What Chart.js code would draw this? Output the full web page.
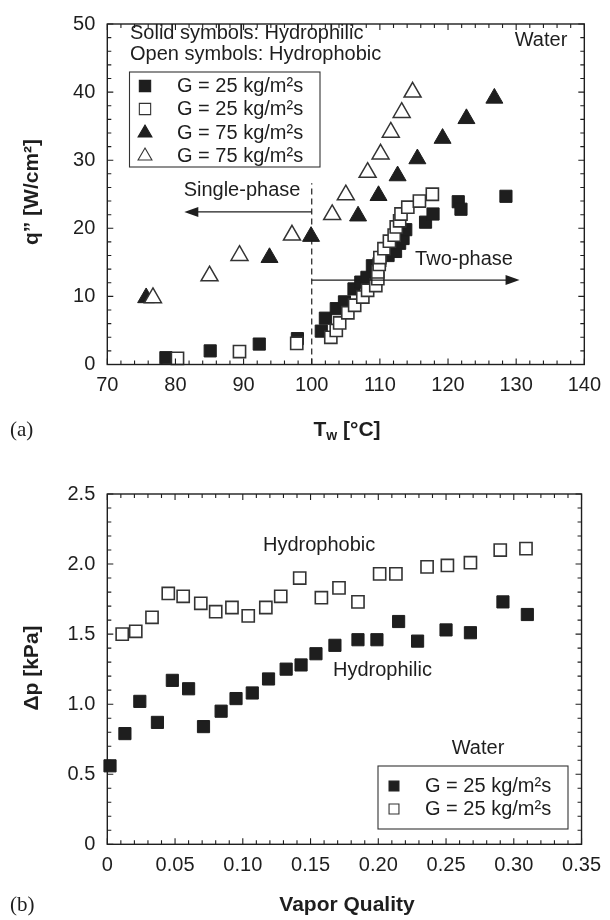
<!DOCTYPE html>
<html>
<head>
<meta charset="utf-8">
<script src="https://cdn.jsdelivr.net/npm/chart.js@4.4.0/dist/chart.umd.min.js"></script>
<style>
  html, body { margin: 0; padding: 0; background: #fff; }
  #wrap { position: relative; width: 610px; height: 920px; }
  canvas { position: absolute; left: 0; }
  #topChart { top: 0; }
  #bottomChart { top: 460px; }
</style>
</head>
<body>
<div id="wrap">
  <canvas id="topChart" width="610" height="460"></canvas>
  <canvas id="bottomChart" width="610" height="460"></canvas>
</div>
<script>
// (a) heat flux vs wall temperature
const twPhilic25 = [78.6, 85.1, 92.3, 97.9, 101.4, 102.0, 103.6, 104.8, 106.2, 107.2, 108.1, 108.9, 110.0, 111.2, 112.3, 112.9, 113.4, 113.8, 116.7, 117.8, 121.5, 121.9, 128.5];
const qPhilic25 = [1.0, 2.0, 3.0, 3.8, 4.9, 6.8, 8.2, 9.2, 11.1, 12.1, 12.8, 14.5, 15.2, 16.0, 16.6, 17.8, 18.5, 19.8, 20.9, 22.1, 23.9, 22.8, 24.7];
const twPhobic25 = [80.3, 89.4, 97.8, 102.8, 103.6, 104.1, 105.3, 106.3, 107.5, 108.2, 109.4, 109.7, 109.7, 109.9, 110.0, 110.6, 111.4, 112.1, 112.4, 112.9, 113.1, 114.1, 115.8, 117.7];
const qPhobic25 = [0.9, 1.9, 3.1, 4.0, 5.0, 6.1, 7.6, 8.7, 9.9, 10.9, 11.6, 12.6, 13.6, 14.7, 15.7, 17.0, 18.1, 19.0, 20.2, 21.1, 22.1, 23.1, 24.0, 25.0];
const twPhilic75 = [75.7, 93.8, 99.9, 106.8, 109.8, 112.6, 115.5, 119.2, 122.7, 126.8];
const qPhilic75 = [9.8, 15.7, 18.8, 21.8, 24.8, 27.7, 30.2, 33.2, 36.1, 39.1];
const twPhobic75 = [76.7, 85.0, 89.4, 97.1, 103.0, 105.0, 108.2, 110.1, 111.6, 113.2, 114.8];
const qPhobic75 = [9.8, 13.0, 16.0, 19.0, 22.0, 24.9, 28.2, 30.9, 34.1, 37.0, 40.0];
const tempTicks = ['70', '80', '90', '100', '110', '120', '130', '140'];
const fluxTicks = ['0', '10', '20', '30', '40', '50'];

// (b) pressure drop vs vapor quality
const xPhilic = [0.002, 0.013, 0.024, 0.037, 0.048, 0.060, 0.071, 0.084, 0.095, 0.107, 0.119, 0.132, 0.143, 0.154, 0.168, 0.185, 0.199, 0.215, 0.229, 0.250, 0.268, 0.292, 0.310];
const dpPhilic = [0.56, 0.79, 1.02, 0.87, 1.17, 1.11, 0.84, 0.95, 1.04, 1.08, 1.18, 1.25, 1.28, 1.36, 1.42, 1.46, 1.46, 1.59, 1.45, 1.53, 1.51, 1.73, 1.64];
const xPhobic = [0.011, 0.021, 0.033, 0.045, 0.056, 0.069, 0.080, 0.092, 0.104, 0.117, 0.128, 0.142, 0.158, 0.171, 0.185, 0.201, 0.213, 0.236, 0.251, 0.268, 0.290, 0.309];
const dpPhobic = [1.50, 1.52, 1.62, 1.79, 1.77, 1.72, 1.66, 1.69, 1.63, 1.69, 1.77, 1.90, 1.76, 1.83, 1.73, 1.93, 1.93, 1.98, 1.99, 2.01, 2.10, 2.11];
const qualityTicks = ['0', '0.05', '0.10', '0.15', '0.20', '0.25', '0.30', '0.35'];
const dpTicks = ['0', '0.5', '1.0', '1.5', '2.0', '2.5'];

const INK = '#1e1e1e';
const FONT = "'Liberation Sans', Arial, sans-serif";
Chart.defaults.font.family = FONT;
Chart.defaults.font.size = 20;
Chart.defaults.color = INK;

const pts = (xs, ys) => xs.map((v, i) => ({ x: v, y: ys[i] }));

const filledSq = { pointStyle: 'rect', pointRadius: 8.6, backgroundColor: INK, borderColor: INK, borderWidth: 1, clip: false };
const openSq = { pointStyle: 'rect', pointRadius: 8.6, backgroundColor: '#fff', borderColor: '#333', borderWidth: 1.6, clip: false };
const filledTri = { pointStyle: 'triangle', pointRadius: 9.8, backgroundColor: INK, borderColor: INK, borderWidth: 1, clip: false };
const openTri = { pointStyle: 'triangle', pointRadius: 9.8, backgroundColor: '#fff', borderColor: '#333', borderWidth: 1.5, clip: false };

function axes(xMin, xMax, xStep, xLabels, yMin, yMax, yStep, yLabels, xHeight) {
    return {
        x: {
            type: 'linear', min: xMin, max: xMax,
            grid: { display: false, drawTicks: false }, border: { display: false },
            ticks: { stepSize: xStep, padding: 9, maxRotation: 0, callback: (v, i) => xLabels[i] },
            afterFit: s => { s.height = xHeight; }
        },
        y: {
            type: 'linear', min: yMin, max: yMax,
            grid: { display: false, drawTicks: false }, border: { display: false },
            ticks: { stepSize: yStep, padding: 12, callback: (v, i) => yLabels[i] },
            afterFit: s => { s.width = 107.3; }
        }
    };
}

// frame on four sides with inward ticks
function frameTicks(chart, xMinor, yMinor) {
    const { ctx, chartArea: a, scales: { x, y } } = chart;
    ctx.save();
    ctx.strokeStyle = INK;
    ctx.lineWidth = 1.4;
    ctx.strokeRect(a.left, a.top, a.right - a.left, a.bottom - a.top);
    ctx.lineWidth = 1.1;
    ctx.beginPath();
    const nx = Math.round((x.max - x.min) / xMinor);
    for (let i = 0; i <= nx; i++) {
        const px = x.getPixelForValue(x.min + i * xMinor);
        const len = i % 5 === 0 ? 6 : 4;
        ctx.moveTo(px, a.bottom); ctx.lineTo(px, a.bottom - len);
        ctx.moveTo(px, a.top); ctx.lineTo(px, a.top + len);
    }
    const ny = Math.round((y.max - y.min) / yMinor);
    for (let i = 0; i <= ny; i++) {
        const py = y.getPixelForValue(y.min + i * yMinor);
        const len = i % 5 === 0 ? 6 : 4;
        ctx.moveTo(a.left, py); ctx.lineTo(a.left + len, py);
        ctx.moveTo(a.right, py); ctx.lineTo(a.right - len, py);
    }
    ctx.stroke();
    ctx.restore();
}

function text(ctx, s, x, y, font, align) {
    ctx.font = font;
    ctx.textAlign = align || 'left';
    ctx.textBaseline = 'middle';
    ctx.fillText(s, x, y);
}

function arrow(ctx, x1, y, x2) {
    const dir = Math.sign(x2 - x1);
    ctx.beginPath();
    ctx.moveTo(x1, y);
    ctx.lineTo(x2 - dir * 6, y);
    ctx.stroke();
    ctx.beginPath();
    ctx.moveTo(x2, y);
    ctx.lineTo(x2 - dir * 14, y - 5);
    ctx.lineTo(x2 - dir * 14, y + 5);
    ctx.closePath();
    ctx.fill();
}

function legend(ctx, box, rows, radius) {
    ctx.lineWidth = 1.1;
    ctx.strokeStyle = '#333';
    ctx.strokeRect(box.x, box.y, box.w, box.h);
    rows.forEach(r => {
        ctx.fillStyle = r.style.backgroundColor;
        ctx.strokeStyle = r.style.borderColor;
        Chart.helpers.drawPoint(ctx, { pointStyle: r.style.pointStyle, radius: radius, borderWidth: r.style.borderWidth, rotation: 0 }, r.mx, r.y);
        ctx.fillStyle = INK;
        text(ctx, r.label, r.tx, r.y, '20px ' + FONT);
    });
}

function yTitle(ctx, s, x, y) {
    ctx.save();
    ctx.translate(x, y);
    ctx.rotate(-Math.PI / 2);
    text(ctx, s, 0, 0, 'bold 21px ' + FONT, 'center');
    ctx.restore();
}

const topDecor = {
    id: 'topDecor',
    afterDraw(chart) {
        const { ctx, scales: { x, y } } = chart;
        frameTicks(chart, 2, 2);
        ctx.save();
        ctx.fillStyle = INK;
        ctx.strokeStyle = INK;
        text(ctx, 'Solid symbols: Hydrophilic', 130, 33, '20px ' + FONT);
        text(ctx, 'Open symbols: Hydrophobic', 130, 54, '20px ' + FONT);
        text(ctx, 'Water', 541, 40, '20px ' + FONT, 'center');

        // phase boundary at 100 °C
        const x100 = x.getPixelForValue(100);
        ctx.lineWidth = 1.2;
        ctx.setLineDash([6, 4]);
        ctx.beginPath();
        ctx.moveTo(x100, y.getPixelForValue(0));
        ctx.lineTo(x100, y.getPixelForValue(26.6));
        ctx.stroke();
        ctx.setLineDash([]);
        ctx.lineWidth = 1.3;
        arrow(ctx, x100, y.getPixelForValue(22.4), x.getPixelForValue(81.3));
        text(ctx, 'Single-phase', 242, 190, '20px ' + FONT, 'center');
        arrow(ctx, x100, y.getPixelForValue(12.4), x.getPixelForValue(130.5));
        text(ctx, 'Two-phase', 464, 259, '20px ' + FONT, 'center');

        legend(ctx, { x: 129.5, y: 72, w: 190.5, h: 95 }, [
            { style: filledSq, label: 'G = 25 kg/m²s', mx: 145, tx: 177, y: 86 },
            { style: openSq, label: 'G = 25 kg/m²s', mx: 145, tx: 177, y: 109 },
            { style: filledTri, label: 'G = 75 kg/m²s', mx: 145, tx: 177, y: 133 },
            { style: openTri, label: 'G = 75 kg/m²s', mx: 145, tx: 177, y: 156 }
        ], 8);

        // axis titles
        ctx.fillStyle = INK;
        yTitle(ctx, 'q” [W/cm²]', 32, 192);
        ctx.font = 'bold 21px ' + FONT;
        const wT = ctx.measureText('T').width;
        ctx.font = 'bold 14px ' + FONT;
        const wW = ctx.measureText('w').width;
        ctx.font = 'bold 21px ' + FONT;
        const wRest = ctx.measureText(' [°C]').width;
        let tx = 347 - (wT + wW + wRest) / 2;
        text(ctx, 'T', tx, 430, 'bold 21px ' + FONT);
        text(ctx, 'w', tx + wT, 436, 'bold 14px ' + FONT);
        text(ctx, ' [°C]', tx + wT + wW, 430, 'bold 21px ' + FONT);
        text(ctx, '(a)', 10, 430, '21px "Liberation Serif", "Times New Roman", serif');
        ctx.restore();
    }
};

const bottomDecor = {
    id: 'bottomDecor',
    afterDraw(chart) {
        const { ctx } = chart;
        frameTicks(chart, 0.01, 0.1);
        ctx.save();
        ctx.fillStyle = INK;
        text(ctx, 'Hydrophobic', 263, 85, '20px ' + FONT);
        text(ctx, 'Hydrophilic', 333, 210, '20px ' + FONT);
        text(ctx, 'Water', 478, 288, '20px ' + FONT, 'center');
        legend(ctx, { x: 378, y: 306, w: 190, h: 63 }, [
            { style: filledSq, label: 'G = 25 kg/m²s', mx: 394, tx: 425, y: 326 },
            { style: openSq, label: 'G = 25 kg/m²s', mx: 394, tx: 425, y: 349 }
        ], 7);
        ctx.fillStyle = INK;
        yTitle(ctx, 'Δp [kPa]', 32, 208);
        text(ctx, 'Vapor Quality', 347, 445, 'bold 21px ' + FONT, 'center');
        text(ctx, '(b)', 10, 445, '21px "Liberation Serif", "Times New Roman", serif');
        ctx.restore();
    }
};

new Chart(document.getElementById('topChart'), {
    type: 'scatter',
    data: {
        datasets: [
            { label: 'G = 25 kg/m²s (hydrophobic)', data: pts(twPhobic25, qPhobic25), order: 1, ...openSq },
            { label: 'G = 75 kg/m²s (hydrophobic)', data: pts(twPhobic75, qPhobic75), order: 1, ...openTri },
            { label: 'G = 25 kg/m²s (hydrophilic)', data: pts(twPhilic25, qPhilic25), order: 2, ...filledSq },
            { label: 'G = 75 kg/m²s (hydrophilic)', data: pts(twPhilic75, qPhilic75), order: 2, ...filledTri }
        ]
    },
    options: {
        responsive: false,
        animation: false,
        events: [],
        layout: { padding: { top: 15, right: 24, left: 0, bottom: 0 } },
        plugins: { legend: { display: false }, tooltip: { enabled: false } },
        scales: axes(70, 140, 10, tempTicks, 0, 50, 10, fluxTicks, 95.5)
    },
    plugins: [topDecor]
});

new Chart(document.getElementById('bottomChart'), {
    type: 'scatter',
    data: {
        datasets: [
            { label: 'Hydrophobic', data: pts(xPhobic, dpPhobic), ...openSq },
            { label: 'Hydrophilic', data: pts(xPhilic, dpPhilic), ...filledSq }
        ]
    },
    options: {
        responsive: false,
        animation: false,
        events: [],
        layout: { padding: { top: 34, right: 24, left: 0, bottom: 0 } },
        plugins: { legend: { display: false }, tooltip: { enabled: false } },
        scales: axes(0, 0.35, 0.05, qualityTicks, 0, 2.5, 0.5, dpTicks, 75.7)
    },
    plugins: [bottomDecor]
});
</script>
</body>
</html>
